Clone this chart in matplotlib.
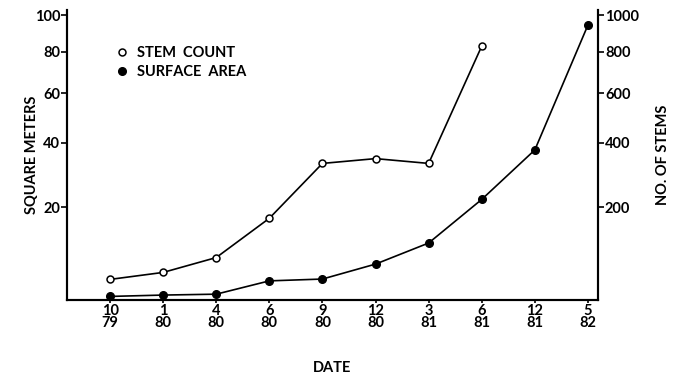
import numpy as np
import matplotlib
matplotlib.use('Agg')
import matplotlib.pyplot as plt
from matplotlib.lines import Line2D

# Data
months = ['10', '1', '4', '6', '9', '12', '3', '6', '12', '5']
years = ['79', '80', '80', '80', '80', '80', '81', '81', '81', '82']
stem_count = [57, 67, 91, 172, 328, 344, 328, 829]          # no. of stems (right axis)
surface_area = [3.6, 3.75, 3.85, 5.5, 5.75, 8.0, 11.8, 22.0, 37.4, 94.3]  # square meters

plt.rcParams['font.family'] = ['Lato', 'DejaVu Sans']
plt.rcParams['font.weight'] = 'bold'
plt.rcParams['axes.labelweight'] = 'bold'
font_size = 10.5

def fwd(v):
    return np.sqrt(np.clip(v, 0, None))

def inv(v):
    return np.asarray(v) ** 2

fig = plt.figure(figsize=(6.73, 3.75), dpi=100)
ax = fig.add_axes([0.0996, 0.2, 0.7890, 0.7733])
ax2 = ax.twinx()

x = np.arange(len(months))

ax.plot(x, surface_area, color='black', linewidth=1.2, marker='o',
        markersize=5.5, markerfacecolor='black', markeredgecolor='black', zorder=3)
ax2.plot(x[:len(stem_count)], stem_count, color='black', linewidth=1.2, marker='o',
         markersize=5, markerfacecolor='white', markeredgecolor='black',
         markeredgewidth=1.1, zorder=3)

# square-root style vertical scales
ax.set_yscale('function', functions=(fwd, inv))
ax2.set_yscale('function', functions=(fwd, inv))
ax.set_ylim(3.22, 102.9)
ax2.set_ylim(32.2, 1029)
ax.set_xlim(-0.81, 9.19)

ax.set_yticks([20, 40, 60, 80, 100])
ax.set_yticklabels(['20', '40', '60', '80', '100'], fontsize=font_size, fontweight='bold')
ax2.set_yticks([200, 400, 600, 800, 1000])
ax2.set_yticklabels(['200', '400', '600', '800', '1000'], fontsize=font_size, fontweight='bold')
ax.minorticks_off()
ax2.minorticks_off()

ax.set_xticks(x)
ax.set_xticklabels([m + '\n' + y for m, y in zip(months, years)],
                   fontsize=font_size, fontweight='bold', linespacing=0.8)
ax.tick_params(axis='x', direction='out', length=2, width=1.2, pad=1)
ax.tick_params(axis='y', direction='out', length=4, width=1.2, pad=1)
ax2.tick_params(axis='y', direction='out', length=4, width=1.2, pad=1)

for a in (ax, ax2):
    a.spines['top'].set_visible(False)
    for s in ('left', 'right', 'bottom'):
        a.spines[s].set_linewidth(1.5)

ax.set_ylabel('SQUARE METERS', fontsize=font_size, fontweight='bold', labelpad=-3)
ax2.set_ylabel('NO. OF STEMS', fontsize=font_size, fontweight='bold', labelpad=12)
ax.set_xlabel('DATE', fontsize=font_size, fontweight='bold', labelpad=22)

handles = [Line2D([], [], linestyle='none', marker='o', markersize=5,
                  markerfacecolor='white', markeredgecolor='black', markeredgewidth=1.1),
           Line2D([], [], linestyle='none', marker='o', markersize=5.5,
                  markerfacecolor='black', markeredgecolor='black')]
ax.legend(handles, ['STEM  COUNT', 'SURFACE  AREA'], loc='upper left',
          bbox_to_anchor=(0.068, 0.92), frameon=False,
          prop={'size': font_size, 'weight': 'bold'},
          handlelength=0.8, handletextpad=0.6, labelspacing=0.3)

fig.savefig('out.png', dpi=100)
